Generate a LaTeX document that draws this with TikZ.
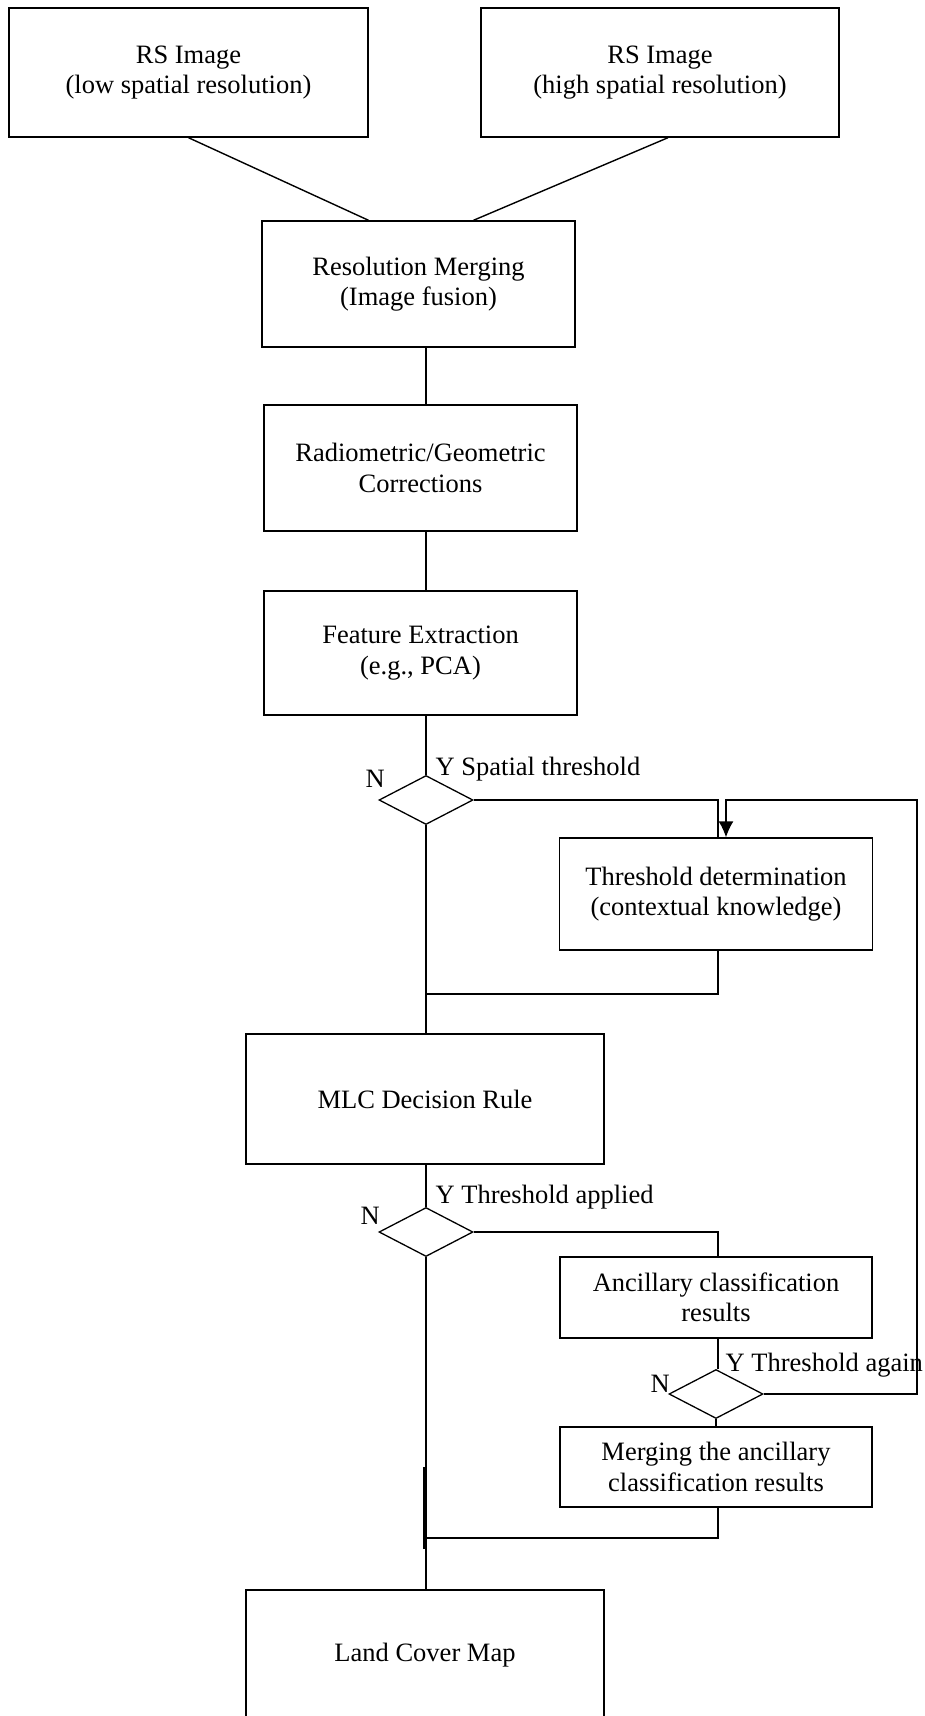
\documentclass[tikz,border=0pt]{standalone}
\usepackage{fontspec}
\setmainfont{Liberation Serif}
\usepackage{tikz}
\usetikzlibrary{shapes.geometric,arrows.meta}

\begin{document}
\begin{tikzpicture}[x=1pt, y=-1pt, line width=1.4pt,
	box/.style={draw=black, thin, solid, line width=1.4pt, rectangle, align=center, inner sep=0pt, font=\fontsize{26.5}{30.5}\selectfont},
	decision/.style={draw=black, line width=1.3pt, diamond, minimum width=94pt, minimum height=49pt, inner sep=0pt},
	yntext/.style={inner sep=0pt, font=\fontsize{26.5}{30.5}\selectfont}]
	\useasboundingbox (0,0) rectangle (925,1716);
	\clip (0,0) rectangle (925,1716);
	\node[box, minimum width=359pt, minimum height=129pt] (rsLow) at (188.5,72.5) {RS Image\\(low spatial resolution)};
	\node[box, minimum width=358pt, minimum height=129pt] (rsHigh) at (660,72.5) {RS Image\\(high spatial resolution)};
	\node[box, minimum width=313pt, minimum height=126pt] (merge) at (418.5,284) {Resolution Merging\\(Image fusion)};
	\node[box, minimum width=313pt, minimum height=126pt] (radio) at (420.5,468) {Radiometric/Geometric\\Corrections};
	\node[box, minimum width=313pt, minimum height=124pt] (feature) at (420.5,653) {Feature Extraction\\(e.g., PCA)};
	\node[decision] (d1) at (426,800) {};
	\node[box, minimum width=313pt, minimum height=112pt] (thr) at (716,894) {Threshold determination\\(contextual knowledge)};
	\node[box, minimum width=358pt, minimum height=130pt] (mlc) at (425,1099) {MLC Decision Rule};
	\node[decision] (d2) at (426,1232) {};
	\node[box, minimum width=312pt, minimum height=81pt] (anc) at (716,1297.5) {Ancillary classification\\results};
	\node[decision] (d3) at (716,1394) {};
	\node[box, minimum width=312pt, minimum height=80pt] (mrg) at (716,1467) {Merging the ancillary\\classification results};
	\node[box, minimum width=358pt, minimum height=130pt] (land) at (425,1655) {Land Cover Map};
	\node[yntext, anchor=base west] (y1) at ([xshift=9pt,yshift=-1pt]d1.north) {Y Spatial threshold};
	\node[yntext, anchor=base east] (n1) at ([xshift=7pt,yshift=13pt]d1.west) {N};
	\node[yntext, anchor=base west] (y2) at ([xshift=9pt,yshift=3pt]d2.north) {Y Threshold applied};
	\node[yntext, anchor=base east] (n2) at ([xshift=2pt,yshift=8pt]d2.west) {N};
	\node[yntext, anchor=base west] (y3) at ([xshift=9pt,yshift=-3pt]d3.north) {Y Threshold again};
	\node[yntext, anchor=base east] (n3) at ([xshift=2pt,yshift=2pt]d3.west) {N};
	\coordinate (loopTR) at (917,800);
	\coordinate (thrIn) at ([xshift=10pt]thr.north);
	\coordinate (join1) at (426,994);
	\coordinate (join2) at (426,1538);
	\coordinate (thickTop) at (424,1467);
	\coordinate (thickBot) at (424,1549);
	\draw[draw=black, solid] (rsLow.south) -- ([xshift=-50pt]merge.north);
	\draw[draw=black, solid] ([xshift=8pt]rsHigh.south) -- ([xshift=55pt]merge.north);
	\draw[draw=black, solid] (merge.south -| d1.north) -- (radio.north -| d1.north);
	\draw[draw=black, solid] (radio.south -| d1.north) -- (feature.north -| d1.north);
	\draw[draw=black, solid] (feature.south -| d1.north) -- (d1.north);
	\draw[draw=black, solid] (d1.south) -- (mlc.north -| d1.south);
	\draw[draw=black, solid] (d1.east) -| ([xshift=2pt]thr.north);
	\draw[draw=black, -{Latex[length=16pt,width=15pt]}, solid] (d3.east) -| (loopTR) -- (thrIn |- loopTR) -- (thrIn);
	\draw[draw=black, solid] ([xshift=2pt]thr.south) |- (join1);
	\draw[draw=black, solid] (mlc.south -| d2.north) -- (d2.north);
	\draw[draw=black, solid] (d2.east) -| ([xshift=2pt]anc.north);
	\draw[draw=black, solid] ([xshift=2pt]anc.south) -- ([xshift=2pt]d3.north);
	\draw[draw=black, solid] (d3.south) -- (mrg.north);
	\draw[draw=black, solid] ([xshift=2pt]mrg.south) |- (join2);
	\draw[draw=black, solid] (d2.south) -- (land.north -| d2.south);
	\draw[draw=black, line width=2.8pt, solid] (thickTop) -- (thickBot);
\end{tikzpicture}
\end{document}
